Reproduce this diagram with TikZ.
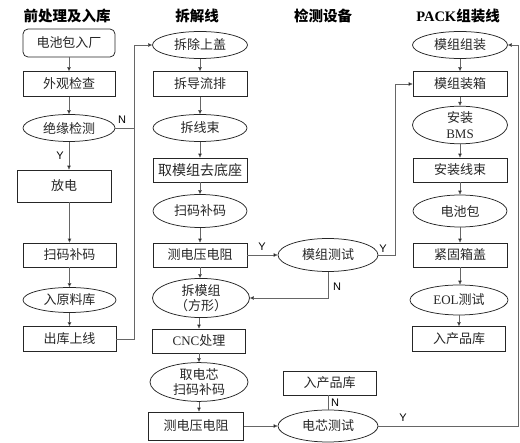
\documentclass[tikz,border=0pt]{standalone}
\usepackage{fontspec}
\setmainfont{Liberation Serif}
\newfontfamily\cjk{Noto Sans CJK SC}
\newfontfamily\lat{Liberation Serif}
\newfontfamily\lab{Liberation Sans}
\usetikzlibrary{shapes.geometric,arrows.meta}
\tikzset{
  txt/.style={font=\cjk\fontsize{13}{15.5}\selectfont, text=black!85, align=center},
  bx/.style 2 args={draw=black!85, line width=0.75pt, rectangle, minimum width=#1pt, minimum height=#2pt, inner sep=0pt, txt},
  rbx/.style 2 args={bx={#1}{#2}, rounded corners=5pt},
  el/.style 2 args={draw=black!85, line width=0.75pt, ellipse, minimum width=#1pt, minimum height=#2pt, inner sep=0pt, txt},
  ttl/.style={font=\cjk\bfseries\fontsize{14.5}{16}\selectfont, text=black},
  con/.style={draw=black!60, line width=0.6pt},
  arr/.style={con, -{Triangle[length=4pt,width=3.5pt,fill=black]}},
  yn/.style={font=\lab\fontsize{11}{12}\selectfont, text=black, inner sep=0pt}
}
\begin{document}
\begin{tikzpicture}[x=1pt,y=-1pt]
\useasboundingbox (0,0) rectangle (520,443);
% titles
\node[ttl] (t1) at (67,16) {前处理及入库};
\node[ttl] (t2) at (197,16) {拆解线};
\node[ttl] (t3) at (323,16) {检测设备};
\node[ttl] (t4) at (458,16) {{\lat\bfseries PACK}组装线};
% column 1
\node[rbx={92}{28}] (a1) at (69,43) {电池包入厂};
\node[bx={92}{25}] (a2) at (69,84) {外观检查};
\node[el={92}{27}] (a3) at (69,128) {绝缘检测};
\node[bx={94}{32}] (a4) at (64,186) {放电};
\node[bx={93}{24}] (a5) at (69.5,255) {扫码补码};
\node[el={93}{25}] (a6) at (69.5,300) {入原料库};
\node[bx={93}{25}] (a7) at (69.5,339) {出库上线};
% column 2
\node[el={95}{27}] (b1) at (200,45) {拆除上盖};
\node[bx={94}{25}] (b2) at (200,84) {拆导流排};
\node[el={94}{27}] (b3) at (200,128) {拆线束};
\node[bx={94}{24}] (b4) at (200,170) {\fontsize{14}{16}\selectfont 取模组去底座};
\node[el={94}{33}] (b5) at (200,211) {扫码补码};
\node[bx={94}{24}] (b6) at (200,255) {测电压电阻};
\node[el={97}{30}] (b7) at (201,298) {拆模组\\（方形）};
\node[bx={93}{24}] (b8) at (199,341) {{\lat CNC}处理};
\node[el={98}{31}] (b9) at (199,382) {取电芯\\扫码补码};
\node[bx={95}{28}] (b10) at (196,426) {测电压电阻};
% column 3
\node[el={100}{33}] (m1) at (328,255) {模组测试};
\node[bx={93}{24}] (k1) at (329.5,383) {入产品库};
\node[el={100}{32}] (k2) at (328,426) {电芯测试};
% column 4
\node[el={95}{27}] (p1) at (460,45) {模组组装};
\node[bx={94}{25}] (p2) at (460,84) {模组装箱};
\node[el={95}{34}] (p3) at (460,125) {安装\\{\lat BMS}};
\node[bx={94}{24}] (p4) at (460,170) {安装线束};
\node[el={94}{32}] (p5) at (460,211) {电池包};
\node[bx={94}{24}] (p6) at (460,255) {紧固箱盖};
\node[el={98}{30}] (p7) at (459,300) {{\lat EOL}测试};
\node[bx={93}{25}] (p8) at (459,339) {入产品库};
% junction coordinates
\coordinate (j1) at (134,0);
\coordinate (j2) at (395,0);
\coordinate (j3) at (518,0);
% column 1 connectors
\draw[arr] (a1) -- (a2);
\draw[arr] (a2) -- (a3);
\draw[arr] (a3.south) -- (a3.south |- a4.north);
\draw[arr] (a5.north |- a4.south) -- (a5.north);
\draw[arr] (a5) -- (a6);
\draw[arr] (a6) -- (a7);
\draw[arr] (a7.east) -- (a7.east -| j1) -- (j1 |- b1.west) -- (b1.west);
\draw[con] (a3.east) -- (a3.east -| j1);
\node[yn] (n1) at (122,120) {N};
\node[yn] (y1) at (60,156) {Y};
% column 2 connectors
\draw[arr] (b1) -- (b2);
\draw[arr] (b2) -- (b3);
\draw[arr] (b3) -- (b4);
\draw[arr] (b4) -- (b5);
\draw[arr] (b5) -- (b6);
\draw[arr] (b6) -- (b6 |- b7.north);
\draw[arr] (b7.south -| b8) -- (b8.north);
\draw[arr] (b8) -- (b9);
\draw[arr] (b9.south) -- (b9.south |- b10.north);
% test connectors
\draw[arr] (b6.east) -- (m1.west);
\node[yn] (y2) at (262,247) {Y};
\draw[arr] (m1.east) -- (m1.east -| j2) -- (j2 |- p2.west) -- (p2.west);
\node[yn] (y3) at (383,249) {Y};
\draw[arr] (m1.south) |- (b7.east);
\node[yn] (n2) at (337,287) {N};
\draw[arr] (b10.east) -- (k2.west);
\draw[con] (k2.north) -- (k2.north |- k1.south);
\node[yn] (n3) at (335,403) {N};
\draw[arr] (k2.east) -- (k2.east -| j3) -- (j3 |- p1.east) -- (p1.east);
\node[yn] (y4) at (403,418) {Y};
% column 4 connectors
\draw[arr] (p1) -- (p2);
\draw[arr] (p2) -- (p3);
\draw[arr] (p3) -- (p4);
\draw[arr] (p4) -- (p5);
\draw[arr] (p5) -- (p6);
\draw[arr] (p6.south) -- (p6.south |- p7.north);
\draw[arr] (p7) -- (p8);
\end{tikzpicture}
\end{document}
